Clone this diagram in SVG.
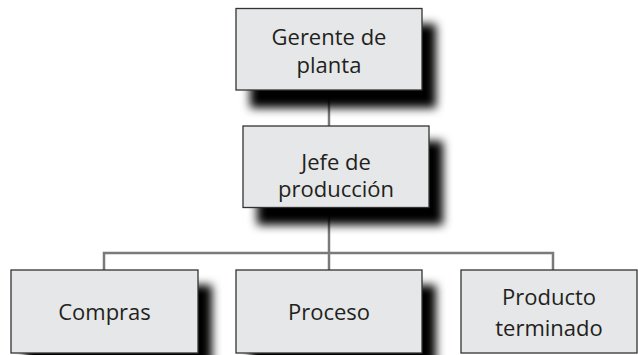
<svg xmlns="http://www.w3.org/2000/svg" width="638" height="355" viewBox="0 0 638 355">
<defs>
<filter id="sh" x="-20%" y="-30%" width="150%" height="170%">
<feGaussianBlur stdDeviation="5"/>
</filter>
</defs>
<style>
.box{fill:#e6e7e8;stroke:#333;stroke-width:1.3}
.shadow{fill:#000;filter:url(#sh)}
.lbl{font-family:"Open Sans","Noto Sans",sans-serif;font-size:22px;fill:#231f20;text-anchor:middle}
.con{stroke:#7a7a7a;stroke-width:2.5;fill:none}
</style>
<rect width="638" height="355" fill="#fff"/>
<g id="connectors">
<line class="con" x1="329" y1="90" x2="329" y2="126"/>
<line class="con" x1="329" y1="207" x2="329" y2="253"/>
<polyline class="con" points="104,270 104,253 553,253 553,270"/>
<line class="con" x1="329" y1="253" x2="329" y2="270"/>
</g>
<g id="gerente">
<rect class="shadow" x="250" y="24" width="186" height="84"/>
<rect class="box" x="236" y="8.5" width="186" height="81.5"/>
<text class="lbl" x="329" y="45">Gerente de</text>
<text class="lbl" x="329" y="73">planta</text>
</g>
<g id="jefe">
<rect class="shadow" x="257" y="141" width="186" height="84"/>
<rect class="box" x="243" y="126" width="186" height="81.5"/>
<text class="lbl" x="336" y="170">Jefe de</text>
<text class="lbl" x="336" y="197">producción</text>
</g>
<g id="compras">
<rect class="shadow" x="25" y="285" width="187" height="83"/>
<rect class="box" x="11" y="270" width="187" height="83"/>
<text class="lbl" x="104.5" y="320">Compras</text>
</g>
<g id="proceso">
<rect class="shadow" x="250" y="285" width="186" height="83"/>
<rect class="box" x="236" y="270" width="186" height="83"/>
<text class="lbl" x="329" y="320">Proceso</text>
</g>
<g id="producto">
<rect class="box" x="461" y="270" width="176" height="83"/>
<text class="lbl" x="549" y="305">Producto</text>
<text class="lbl" x="549" y="336">terminado</text>
</g>
</svg>
